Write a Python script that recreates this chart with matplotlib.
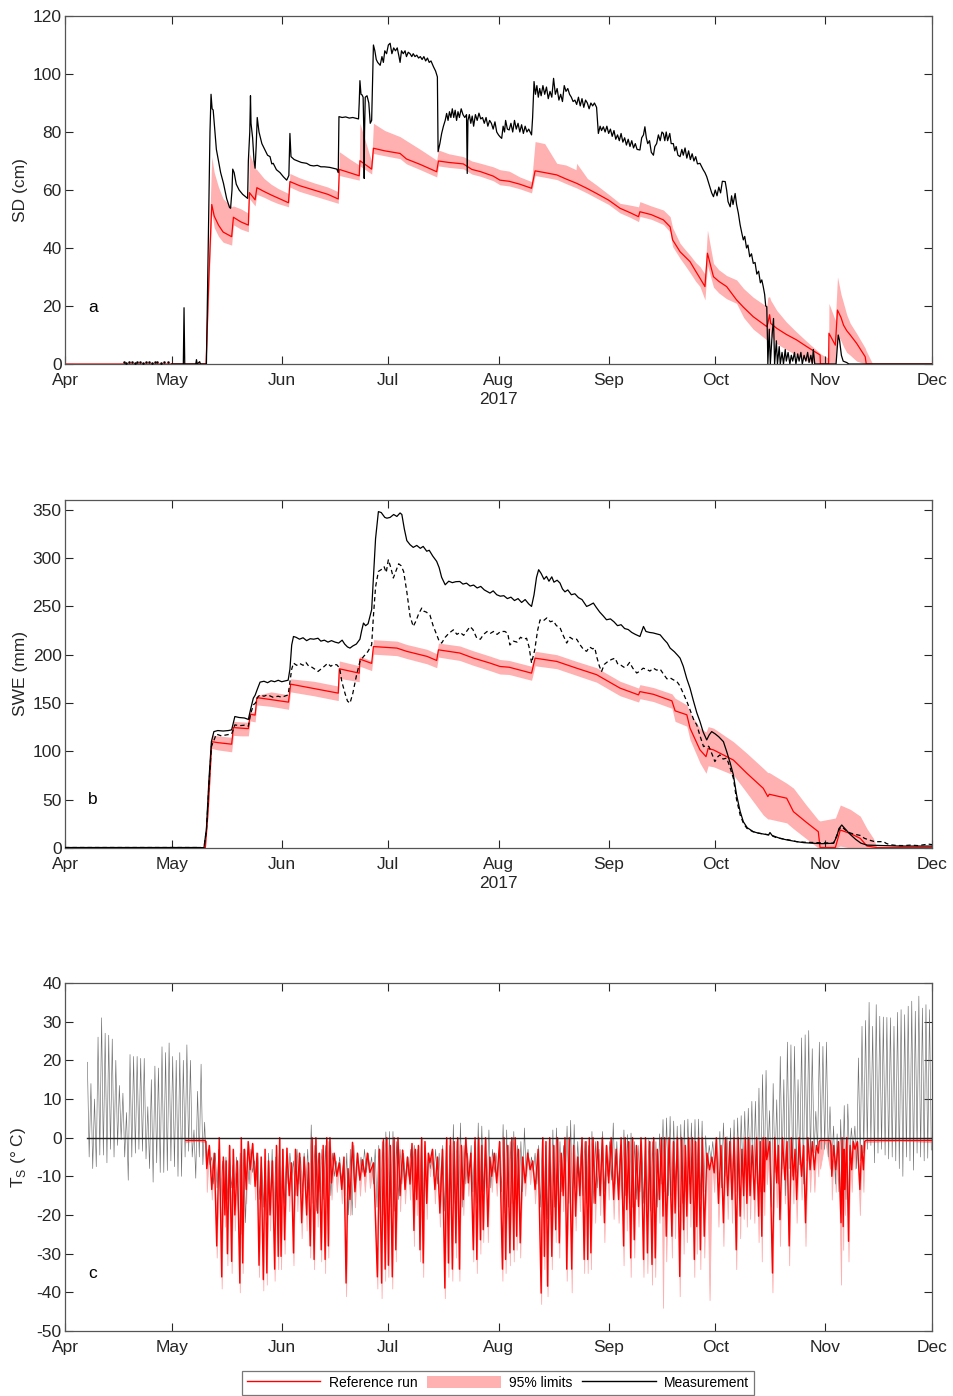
import numpy as np
import matplotlib
matplotlib.use('Agg')
import matplotlib.pyplot as plt
from matplotlib.lines import Line2D
from matplotlib.patches import Patch

plt.rcParams['font.family'] = ['Liberation Sans', 'DejaVu Sans']
plt.rcParams['mathtext.fontset'] = 'custom'
plt.rcParams['mathtext.rm'] = 'Liberation Sans'
plt.rcParams['axes.unicode_minus'] = False

# ---------------- axis data (day 0 = 1 Apr 2017) ----------------
month_days = [0, 30, 61, 91, 122, 153, 183, 214, 244]
month_labels = ['Apr', 'May', 'Jun', 'Jul', 'Aug', 'Sep', 'Oct', 'Nov', 'Dec']
year_label = '2017'
legend_labels = ['Reference run', '95% limits', 'Measurement']

# ---------------- panel a : snow depth (cm) ----------------
sd_snowdots_days = [16.5, 17.3, 18.0, 18.8, 19.6, 20.4, 21.2, 22.0, 22.8, 23.6, 24.4, 25.2, 26.0, 27.0, 28.0, 29.0]
sd_snowdots_vals = [0.6, 0.5, 0.6, 0.6, 0.5, 0.6, 0.6, 0.5, 0.6, 0.6, 0.5, 0.6, 0.6, 0.5, 0.6, 0.6]

sd_meas_pts = [
    (30, 0), (33.3, 0), (33.5, 19.4), (33.7, 0), (36.8, 0), (37.0, 1.5), (37.2, 0), (37.9, 0.8), (38.1, 0), (39.8, 0),
    (40.3, 40), (40.8, 80), (41.1, 93), (41.4, 88), (41.7, 87.6), (42.2, 80), (42.6, 74), (43.2, 70), (43.8, 66),
    (44.6, 62.3), (45.5, 57), (46.3, 54), (46.6, 53.7), (47.0, 60), (47.2, 67.2), (47.6, 66), (48.2, 62), (49.0, 60),
    (50.0, 58.5), (51.4, 57.1), (51.6, 70), (52.0, 80), (52.2, 92.5), (52.35, 83), (52.8, 78), (53.2, 70), (53.5, 67.5),
    (53.8, 75), (54.1, 85), (54.6, 80), (55.4, 76), (56.2, 74), (57.0, 72), (57.7, 71.5), (58.2, 69), (58.6, 69.2),
    (59.5, 67), (60.5, 66), (61.5, 64.5), (62.4, 63.4), (63.0, 65), (63.3, 79.5), (63.6, 71.5), (64.5, 70.5), (65.5, 70),
    (66.5, 69.5), (68.0, 69.2), (69.0, 68.5), (70.0, 68.3), (71.0, 68.5), (72.0, 68), (73.0, 68), (74.5, 67.8),
    (75.5, 67.5), (76.5, 67.2), (76.9, 66), (77.1, 85.3), (78, 85), (79, 85.2), (80, 84.8), (81, 85), (82.6, 84.5),
    (82.8, 90), (83.0, 97.7), (83.3, 93), (83.6, 92.8), (83.9, 92), (84.1, 80), (84.2, 64), (84.3, 80), (84.5, 92),
    (85.0, 92.5), (85.5, 90), (85.9, 83), (86.3, 84), (86.6, 100), (86.8, 110), (87.2, 108), (87.6, 105), (88.0, 104),
    (88.7, 103), (89.2, 106), (89.6, 104), (90.0, 108), (90.5, 107), (91.0, 110), (91.5, 110.6), (92, 107), (92.5, 109),
    (93, 108), (93.5, 109), (94.0, 106), (94.3, 104), (94.7, 108), (95.2, 107), (95.7, 108), (96.1, 106), (96.6, 107.5),
    (97.1, 107), (97.6, 106), (98, 107), (98.5, 106), (99, 106.5), (99.5, 105.5), (100, 106), (100.5, 105), (101, 106),
    (101.5, 104.5), (102, 105.5), (102.5, 104), (103, 104.5), (103.7, 102.5), (104.3, 101), (104.8, 99), (105.0, 73.2),
    (105.5, 76), (106.0, 79.5), (106.5, 82), (107.0, 84), (107.4, 86.4), (107.8, 84), (108.2, 87), (108.6, 85), (109, 88),
    (109.4, 85), (109.8, 87.5), (110.2, 84), (110.6, 87), (111, 85), (111.5, 88), (112, 86), (112.5, 85), (113.0, 86),
    (113.2, 65.7), (113.4, 84), (113.8, 86), (114.2, 83), (114.6, 85.5), (115, 82), (115.5, 86), (116, 84), (116.5, 86.5),
    (117, 84.5), (117.5, 85), (118, 83), (118.5, 85), (119, 82), (119.5, 84), (120, 83), (120.5, 81), (121, 83.5),
    (121.5, 80), (122, 79), (122.4, 78.4), (122.9, 77.8), (123.3, 82), (123.7, 80), (124, 84), (124.5, 81), (125, 80.7),
    (125.5, 83), (126, 80), (126.5, 84), (127, 81), (127.5, 83), (128, 80), (128.5, 82.5), (129, 79.5), (129.5, 82),
    (130, 80), (130.5, 81), (131.3, 79), (131.6, 85), (132.0, 97.4), (132.4, 93), (132.8, 96), (133.2, 92), (133.6, 95),
    (134, 92.5), (134.5, 96), (135, 93), (135.5, 95.5), (136, 91.5), (136.5, 94), (137, 92), (137.5, 98.5), (138, 93),
    (138.5, 95), (139, 91), (139.5, 93), (140, 90.5), (140.5, 96), (141, 94), (141.5, 95), (142, 93), (142.5, 92),
    (143, 90.5), (143.5, 91), (144, 89.5), (144.5, 92), (145, 89), (145.5, 91.5), (146, 88.5), (146.5, 91), (147, 90),
    (147.5, 88), (148, 90), (148.5, 89), (149, 90), (149.6, 88.5), (150.1, 79.5), (150.6, 82), (151, 80.5), (151.5, 81.8),
    (152, 80), (152.5, 82), (153, 79.5), (153.5, 81), (154, 78.5), (154.5, 80.5), (155, 77.5), (155.5, 79), (156, 77),
    (156.5, 79.5), (157, 76.5), (157.5, 78), (158, 75.5), (158.5, 77.5), (159, 75), (159.5, 77), (160, 74.5), (160.5, 76),
    (161, 74), (161.8, 73.8), (162.3, 78), (162.8, 79), (163.2, 81.8), (163.6, 78), (164, 76), (164.5, 77), (165, 73),
    (165.6, 72), (166, 75), (166.5, 76), (167, 79), (167.5, 77), (168, 80), (168.4, 79.5), (168.8, 77), (169.2, 80),
    (169.6, 77), (170.2, 79.5), (170.6, 76), (171.2, 76), (171.6, 73.5), (172, 75), (172.5, 72), (173.1, 71.5),
    (173.6, 74), (174, 72), (174.5, 74.5), (175, 71), (175.5, 73.5), (176, 70.5), (176.5, 72.5), (177, 70), (177.5, 71.5),
    (178, 69), (178.7, 69.2), (179.2, 68), (179.6, 67), (180.1, 66), (180.6, 64.6), (181, 63), (181.5, 61), (182, 59),
    (182.5, 57.7), (183, 60), (183.5, 58), (184, 61), (184.5, 59), (185, 63), (185.8, 62.9), (186.2, 60), (186.6, 56),
    (187.2, 54.2), (187.6, 58), (188.0, 55), (188.6, 58.8), (189.0, 55), (189.5, 52), (190, 48), (190.5, 45),
    (190.9, 42.8), (191.3, 44), (191.8, 40), (192.2, 41), (192.7, 37), (193.2, 38), (193.7, 34.7), (194.2, 35),
    (194.7, 31), (195.2, 32), (195.7, 28), (196.1, 29), (196.5, 26.7), (196.9, 24), (197.2, 20), (197.5, 19.8),
    (197.7, 8), (197.8, 0), (198.2, 12), (198.5, 0), (199.0, 10), (199.4, 15.7), (199.7, 0), (200.2, 8), (200.5, 0),
    (201, 6), (201.3, 0), (201.8, 4), (202.2, 0), (202.7, 5), (203, 1), (203.5, 4), (204, 0), (204.4, 3), (204.8, 1),
    (205.3, 4), (205.7, 0), (206.2, 3.5), (206.6, 1), (207.1, 4), (207.5, 0), (208, 3), (208.5, 1), (209, 4),
    (209.4, 0.5), (209.9, 3), (210.3, 0), (210.6, 5), (211, 0), (217.0, 0), (217.3, 5), (217.6, 10), (218, 8),
    (218.5, 3), (219, 1), (220, 0.5), (220.6, 0), (244, 0),
]

# (day, reference run, lower 95 % limit, upper 95 % limit)
sd_ref_pts = [
    (0, 0, 0, 0), (39.7, 0, 0, 0), (40.5, 30, 25, 40), (41.3, 55, 52, 71.5), (42.0, 51, 47, 66), (43.2, 47.9, 44, 61),
    (44.5, 45.5, 42, 57), (46.9, 43.9, 41, 54.2), (47.4, 50.6, 48, 54.5), (49.5, 49, 46.5, 53.5), (51.6, 47.9, 45.6, 52),
    (51.9, 59.1, 57, 72.6), (53.5, 56.6, 54.5, 67.5), (54.0, 60.8, 58.5, 67), (56, 59.5, 57.5, 64), (58, 58.3, 56.3, 62),
    (60, 57.2, 55.3, 60.5), (62.9, 55.6, 54.2, 58.8), (63.3, 62.9, 61, 65.7), (66, 61.5, 59.5, 64.2), (70, 60, 58, 62.5),
    (74, 58.5, 56.5, 61), (76.9, 56.9, 55.4, 59.4), (77.2, 67.1, 65, 73.2), (80, 66, 64.2, 70.8), (82.8, 64.9, 63.4, 68.6),
    (83.0, 70.1, 68.3, 83), (86.3, 67.2, 65.5, 69.8), (86.8, 74.4, 72.6, 83), (90, 73.5, 71.8, 80.5),
    (94.3, 72.6, 70.8, 78.4), (96.1, 70.7, 69, 77), (100, 68.8, 67, 74), (104.6, 66.3, 64.5, 70.3),
    (105.1, 70, 68.3, 73.8), (108, 69.5, 67.8, 72.5), (112.1, 69, 67.3, 71.5), (114.5, 67.1, 65.5, 70),
    (117, 66.3, 64.7, 69.2), (120.5, 64.8, 63.2, 68), (122.4, 63.4, 61.8, 67), (125, 63, 61.4, 66.5), (128, 62, 60.4, 64.5),
    (131.3, 60.6, 59, 62.9), (132.3, 66.6, 65, 76.7), (135, 66, 64.4, 76), (138.4, 65.2, 63.6, 69.2),
    (141, 63.8, 62.2, 68.6), (143.8, 62.4, 60.8, 67), (144, 62.3, 60.7, 69.2), (147, 60.5, 58.9, 64),
    (149.6, 58.8, 57.2, 61.7), (153, 56.5, 55, 58.5), (156.2, 53.7, 52.1, 55.4), (159, 52.2, 50.6, 54.8),
    (161.4, 50.8, 49.1, 54.2), (161.8, 52.5, 50.9, 56), (165, 51.5, 49.9, 54.5), (168.4, 49.7, 48.1, 53.1),
    (170.3, 47.3, 45.5, 50.8), (171.0, 42.8, 40.5, 47), (173.1, 38.7, 36.4, 41.6), (174.5, 37, 34, 39.5),
    (175.9, 35.3, 31.5, 37.5), (177.5, 32, 28.5, 35), (178.7, 29.6, 26.7, 33.6), (180.1, 26.7, 22.1, 31),
    (180.8, 38.2, 34, 46.2), (182.5, 30.1, 26.5, 34.7), (184, 28.5, 24.5, 32.5), (186.2, 26.7, 22.5, 30.5),
    (189, 22.1, 20.9, 29), (191, 19.5, 16, 26), (193.7, 16.3, 12, 23), (197.5, 12.9, 8.3, 19.8), (197.8, 14, 9, 23),
    (198.3, 17, 12, 23.2), (198.6, 14, 10, 22), (200.3, 12.3, 7, 18.5), (203, 10.2, 5, 14.5), (205.9, 8.3, 3, 11),
    (209, 5.8, 1, 7.5), (212.5, 3.1, 0, 3.7), (212.6, 0, 0, 3.5), (214.9, 0, 0, 2), (215.0, 10.6, 0, 20.9),
    (216.8, 6.5, 0, 15), (217.4, 18.6, 10, 30.1), (218.4, 16, 8, 24), (219.1, 13.4, 6, 21), (220, 11.5, 4, 17),
    (221, 10, 3, 14), (222.8, 7.1, 1, 10.5), (225.2, 2.5, 0, 5.5), (225.5, 0, 0, 4.5), (227.3, 0, 0, 0), (244, 0, 0, 0),
]

# ---------------- panel b : SWE (mm) ----------------
swe_meas_pts = [
    (0, 0.5), (38, 0.5), (39.1, 0), (39.8, 20), (40.5, 70), (41.2, 110), (41.9, 120.4), (43, 121.5), (44.5, 121),
    (46, 121.5), (46.9, 122.2), (47.4, 130), (47.8, 136), (49, 135), (50.5, 134.5), (51.6, 133), (52.2, 143), (53, 155),
    (53.5, 158), (54.2, 165), (54.9, 171.6), (56, 172.5), (57, 171), (58, 173), (59, 172), (60, 173.5), (61, 172),
    (62.8, 173.6), (63.3, 185), (63.8, 210), (64.3, 218.8), (65, 218), (66, 216), (67, 217.5), (68, 214.5), (69, 216.5),
    (70, 216), (71.2, 217), (72, 214), (73, 215), (74, 213), (75, 214.5), (76, 213), (77, 212), (78, 215), (78.7, 211),
    (79.5, 208), (80.2, 206.8), (81, 209), (82, 211), (83, 216), (83.5, 225), (84, 232.7), (84.6, 230), (85.3, 232),
    (86.3, 246.5), (86.8, 280), (87.4, 320), (88.2, 348), (89, 347), (90, 342), (90.6, 341.2), (91.5, 342), (92.5, 345),
    (93.4, 343), (94.3, 346.6), (94.8, 345), (95.5, 330), (96.2, 318), (97.1, 313.8), (98, 311), (99, 313), (100, 310),
    (100.8, 312), (101.8, 307), (102.5, 308), (103.5, 302), (104.6, 296.5), (105.3, 290), (106, 280), (107, 272.3),
    (108, 276), (109, 274.5), (110, 275.5), (111.1, 275.7), (112, 273), (113, 274), (114, 271), (115, 272), (116, 269),
    (117, 270.6), (118, 267), (119, 265), (119.6, 263.7), (120.5, 266), (121.5, 262), (122.5, 260.5), (123.5, 261),
    (124.5, 258), (125.5, 259.5), (126.5, 256), (127.5, 258), (128.5, 254), (129.5, 257), (130.5, 252.5),
    (131.3, 249.9), (132, 262), (132.7, 280), (133.3, 287.9), (134, 284), (134.8, 278), (135.5, 281), (136.2, 276),
    (137, 280.5), (137.6, 275), (138.5, 277), (139.3, 274.1), (140, 268), (140.7, 265), (141.5, 267), (142.5, 262),
    (143.5, 263), (144.5, 259), (145.5, 257), (146.8, 249.9), (147.5, 251), (148.7, 253.4), (149.5, 249), (150.5, 244),
    (151.5, 240), (152.4, 236.1), (153.5, 237), (154.5, 234), (155.5, 230), (156.5, 231), (157.5, 227), (158.5, 226),
    (159.5, 223), (160.5, 221), (161.8, 218.8), (162.5, 226), (162.8, 229.2), (163.5, 224), (164.5, 223),
    (165.5, 222.5), (167.5, 220.5), (168.5, 216), (169.5, 212), (170.3, 206.8), (171.5, 203), (172.5, 199),
    (173.1, 196.4), (174, 188), (175, 175), (175.9, 165.4), (176.8, 153), (177.8, 140), (178.7, 130.8), (179.6, 120),
    (180.6, 111.8), (181.3, 117), (182, 120.4), (183, 118), (184, 115), (185.3, 110), (186.2, 100), (187.2, 88),
    (188.1, 75.6), (189, 55), (190, 38), (190.9, 27.2), (192, 21), (193.7, 16.9), (195, 15.5), (196.5, 14.5),
    (198, 13.5), (198.4, 16), (199, 13), (201.2, 10), (203, 8.5), (206, 6.5), (208, 5.5), (210.6, 4.9), (213, 4.5),
    (216.3, 4.9), (217.2, 12), (217.8, 20), (218.6, 23.8), (219.5, 20), (221, 14), (222.5, 9), (224, 5), (225.7, 3),
    (230, 2.5), (235, 2), (240, 2), (244, 2),
]

swe_meas2_pts = [
    (0, 0.5), (38, 0.5), (39.1, 0), (39.8, 18), (40.5, 65), (41.2, 105), (42.6, 117.8), (44, 116), (45.5, 117),
    (46.9, 118), (47.4, 123), (47.8, 127.4), (49, 126.5), (50.5, 127), (51.6, 126), (52.2, 138), (53, 148),
    (53.6, 150), (54.2, 156), (54.9, 158.4), (56, 157), (57, 158.5), (58.5, 156), (60, 157), (61, 156), (62.8, 158.4),
    (63.3, 172), (63.8, 185), (64.3, 191.3), (65.2, 189), (66, 191), (67, 189), (67.8, 192), (68.6, 188), (69.5, 187),
    (70.3, 185), (71.2, 182.6), (72, 185), (73, 188), (73.9, 191), (74.8, 188), (75.6, 190), (76.5, 189.5), (77.3, 186),
    (77.9, 172.2), (78.8, 160), (79.5, 152), (80.2, 149.8), (81, 160), (82, 178), (83, 193), (84, 198), (85.2, 203),
    (86.3, 210.2), (86.8, 240), (87.4, 270), (88.2, 286.1), (89, 288), (89.8, 291), (90.4, 285), (91, 298.2),
    (91.7, 290), (92.4, 279.3), (93.2, 287), (93.9, 294), (94.6, 292), (95.3, 286), (96.2, 265), (97.1, 240),
    (98, 229.2), (98.8, 235), (99.5, 242), (100.4, 248.2), (101, 245), (101.7, 244), (102.7, 241), (103.6, 230),
    (104.6, 220.6), (105.3, 214), (106, 212), (107, 218), (108, 222), (109.3, 225.7), (110.3, 221), (111.2, 223),
    (112.2, 220), (113, 224), (114, 229), (114.8, 226), (115.9, 217), (116.9, 216), (117.8, 221), (118.8, 224),
    (119.7, 222), (120.6, 224), (121.6, 221), (122.6, 224), (123.8, 224), (124.6, 222), (125.2, 210), (126.2, 214),
    (127.2, 213), (128.2, 218), (129.2, 216), (129.9, 217), (130.6, 208), (131.3, 191.3), (132.2, 205), (133, 225),
    (133.7, 236), (134.6, 235), (135.6, 238), (136.6, 234), (137.4, 235), (138.3, 230), (139.3, 228), (140.2, 220),
    (141.2, 212), (142.1, 218), (143.1, 215.5), (144, 216), (145, 210), (146, 205), (146.8, 203.5), (147.6, 208),
    (148.5, 206), (149.1, 207), (149.7, 197), (150.4, 188), (151, 182.6), (151.8, 190), (152.8, 193), (153.8, 195),
    (154.8, 196.4), (155.6, 190), (156.5, 189), (157.3, 187), (158.1, 188), (158.9, 192), (159.8, 186), (160.9, 181),
    (161.8, 183), (162.7, 186), (163.6, 185), (164.6, 183), (165.6, 186), (166.5, 184), (167.5, 185), (168.4, 180),
    (169.4, 175), (170.3, 176), (171.2, 174), (172.2, 172.2), (173, 168), (174, 160), (175, 151.6), (176, 142),
    (177, 132), (177.8, 127.4), (178.8, 115), (179.7, 104.9), (180.4, 106), (181.2, 105), (182, 98), (182.9, 89.4),
    (183.6, 94), (184.3, 96.3), (185.2, 92), (186.2, 93), (187, 85), (188.1, 72.2), (189, 50), (190, 34.2), (191, 25),
    (191.9, 20.4), (193.5, 17), (195, 15.5), (196.5, 14.5), (198.4, 13.5), (200, 11), (202, 9.5), (203.5, 8.5),
    (205.9, 6.6), (208, 6), (212, 5.5), (216.3, 5), (217.2, 13), (218, 20), (218.6, 22), (219.5, 19), (221, 15.5),
    (222.5, 14), (223.8, 13), (225, 10), (226.5, 8), (228, 6.5), (230.4, 6.6), (231, 5), (232, 3.5), (234, 2.6),
    (236, 2.5), (238, 3), (240, 2.5), (242, 3.5), (243, 4), (244, 3.5),
]

# (day, reference run, lower 95 % limit, upper 95 % limit)
swe_ref_pts = [
    (0, 0, 0, 0), (39.5, 0, 0, 0), (40.3, 40, 35, 45), (41.3, 110, 103, 117), (43, 109, 101.5, 116),
    (46.9, 107.4, 99.5, 114.5), (47.4, 124.6, 116.5, 131), (49.5, 124, 116, 130.5), (51.6, 123.5, 116, 130),
    (52.1, 138.4, 131.5, 141), (53.5, 137.5, 130.5, 140.5), (54.0, 155.6, 148, 158), (58, 153.5, 146.5, 161.5),
    (62.9, 150.9, 143.5, 158.5), (63.5, 169.5, 161.5, 175), (70, 165, 157.5, 172.5), (76.9, 160.2, 152.5, 167.5),
    (77.2, 185.4, 175.5, 193.5), (82.8, 180.9, 172, 188.5), (83.0, 195.4, 188, 198.5), (86.3, 191, 183.5, 193.5),
    (86.8, 208.4, 200.5, 215.5), (93.4, 206.8, 199, 214), (96.2, 203.4, 196, 210.5), (101.9, 198.2, 190.5, 205.5),
    (104.6, 194, 186.5, 201), (105.1, 205, 197.5, 212), (111.1, 201.7, 194, 209), (114.9, 196.5, 189, 204),
    (119.6, 191.3, 183.5, 198.5), (122.4, 187.8, 180, 195), (125, 187, 179.5, 194), (131.3, 180.9, 173.5, 188),
    (132.3, 196.4, 188.5, 203.5), (138.4, 193, 185.5, 200), (144, 186, 178.5, 193), (149.6, 179.3, 171.5, 186.5),
    (156.2, 165.4, 157.5, 172.5), (161.4, 158.4, 151, 165.5), (161.8, 161.8, 154.5, 169), (165.6, 159, 151.5, 166),
    (170.8, 152.2, 144.5, 159.5), (171.7, 141.9, 131, 155), (175, 137.8, 126, 148), (175.9, 124, 112, 140),
    (178.7, 101.5, 88, 124), (180.4, 94.5, 77.3, 120), (181.0, 103, 85, 125.6), (182.5, 101.5, 84, 124),
    (188.1, 91, 75.6, 110), (191.9, 77.3, 57, 98), (196.5, 61.8, 34.2, 82.5), (197.8, 53.2, 30, 78),
    (198.2, 55.6, 30, 78), (203.1, 51.5, 26, 67), (205, 37.6, 20, 62), (208.5, 27, 10, 45), (212, 16.9, 0, 29),
    (212.5, 0.5, 0, 28), (216.8, 0.5, 0, 31), (218.2, 18.6, 2, 44.5), (221, 15, 0, 40), (223.8, 10, 0, 33),
    (225.7, 2, 0, 20), (227.5, 1, 0, 10), (228.5, 0.5, 0, 0.5), (244, 0.5, 0, 0.5),
]

# ---------------- panel c : surface temperature (deg C) ----------------
ts_zero_start = 6.3
ts_meas_first_day = 6
ts_meas_max = [
    19.5, 14, 10, 26, 31, 27, 26.5, 25.5, 20, 13.5, 11.5, 6.5, 21.5, 21, 21, 20.5, 20.5, 8, 15, 18.5,
    18, 23.5, 22, 24.5, 21, 20, 22, 20, 24, 20, 2, 12, 19, 4,
    -3, -5, -4, -3, -6, -5, -4, -7, -5, -4,
    -3, -5, -3, -6, -4, -5, -6, -4, -3, -5,
    -4, -3, -5, -4, -6, -3, -5, -4, -3, 3.3,
    -2, -4, -3, -2, -1, -4, -6, -5, -7, -4,
    -3, -2, -4, -5, -3, -4, -5, -3, -2, -1,
    1.5, 1.6, 1.6, -1, -3, -4, -5, -3, -2, -3,
    -1, -2, -4, -5, -3, -4, -2, -1, -2, 3.4,
    -1, 3.8, -2, -4, -2, -1, 3.8, 3, -1, 2,
    -3, -4, -1, 3.4, 2, -1, 1.6, -2, -1, 2.5,
    -3, -5, -4, -2, -1, -2, -1, 2, 2.5, -1,
    -2, 3, 4.5, 3.4, -1, -2, -1, -2, 1.6, -1,
    -3, 1.6, -2, -1, 3.8, -1, -2, 2, 0.8, 1.2,
    -1, -2, -1, -2, -0.5, -1, -1,
    1, 4.7, 5.1, 5.5, 4.3, 3, 3.4, 4.5, 4.8, 3.8, 4.7, 4.8, 4.3, 0.5, -2, -1, -1, 1.6, 3.8, 0.3,
    2.5, 4.6, 5.1, 5.7, 6.8, 7.6, 9.4, 9.4, 12.8, 16.3,
    17.4, 7, 14, 9.8, 21, 15, 24.7, 24, 23.6, 15, 25.8, 26.6, 27.7, 23, 6.8, 24.7, 23.6, 24.7, 8, 3,
    1, 4.7, 8.3, 8.7, 2.5, 3, 20.6, 28.8, 30.3, 35, 28.8, 34.4, 31.4, 31.2, 31.1, 31, 28.8, 32.4, 33.1, 31.8,
    34, 35.3, 32.7, 36.6, 33.5, 34.4, 33.1,
]
ts_meas_min = [
    -5, -8, -7.5, -4.5, -4.5, -6.5, -3, -5, -2, -0.5, -5, -11, -5, -4, -3, -3.5, -5.5, -8, -11.5, -6.5,
    -9, -9, -8.5, -6, -7.5, -10, -10, -5, -3.5, -5, -10.5, -5, -7, -8,
    -7, -12, -13, -18, -15, -16, -13, -13, -20, -25,
    -22, -12, -9, -11, -16, -18, -20, -17, -21, -20,
    -18, -17, -12, -10, -15, -12, -14, -13, -15, -17,
    -19, -14, -16, -18, -15, -10, -9, -11, -15, -20,
    -20, -13, -10, -9, -9, -8, -12, -18, -22, -20,
    -16, -18, -19, -16, -12, -11, -10, -11, -14, -16,
    -18, -17, -8, -10, -12, -14, -19, -20, -18, -17,
    -16, -18, -12, -10, -14, -17, -16, -14, -13, -13,
    -9, -10, -14, -19.5, -18, -17, -16, -15, -14, -10,
    -8, -9, -12, -18, -20, -21, -20, -18, -15, -14,
    -12, -17, -18, -13, -11, -15, -17, -18, -17, -13,
    -12, -14, -10, -11, -12, -13, -16, -15, -17, -18,
    -16, -14, -17, -18, -19, -19.5, -18, -12, -14, -15,
    -15, -13, -18, -17, -14, -12, -16, -15, -16, -14,
    -8, -6, -7, -11, -13, -10, -11, -16, -14, -12,
    -10, -11, -10, -11, -12, -14, -10,
    -5, -18, -9, -12, -8, -15, -8, -10, -9, -7,
    -12, -6, -6, -4, -3, -3, -3, -5, -7, -12,
    -14, -15, -16, -6, -3, -8, -6, -4, -3, -2,
    -6.5, -4, -3, -4.5, -5.5, -5, -6, -8, -10, -5,
    -6, -8.4, -4, -5, -6, -5.3, -3.2,
]

ts_ref_days = [
    34.0, 39.4, 39.9, 41.3, 42.7, 44.1, 45.0, 45.7, 46.9, 47.8, 49.2, 50.0, 51.0, 52.1, 53.5, 54.6, 55.8, 56.8, 57.7,
    59.0, 60.0, 60.8, 61.8, 63.1, 64.3, 65.4, 66.6, 68.0, 69.0, 70.1, 71.1, 72.1, 73.2, 74.1, 75.0, 76.5, 77.9, 79.1,
    80.2, 81.6, 83.0, 84.4, 85.8, 87.9, 89.1, 90.1, 91.0, 92.1, 93.1, 94.3, 95.7, 97.1, 98.2, 99.0, 99.9, 100.8, 101.8,
    102.7, 104.1, 105.5, 106.9, 107.9, 109.0, 110.0, 111.0, 112.1, 113.5, 114.9, 115.9, 116.9, 117.7, 119.0, 120.1,
    121.5, 123.1, 124.0, 125.2, 126.3, 127.1, 128.1, 129.5, 130.9, 132.3, 134.0, 134.9, 135.8, 137.0, 138.1, 139.1,
    140.2, 141.2, 142.6, 143.7, 144.9, 146.1, 147.1, 148.0, 149.2, 150.6, 151.8, 153.0, 154.4, 155.8, 157.2, 158.1,
    159.2, 160.2, 161.4, 162.8, 163.9, 165.2, 166.1, 167.3, 168.3, 169.2, 170.8, 171.7, 173.0, 174.1, 175.0, 176.0,
    177.1, 177.8, 178.8, 179.9, 181.4, 182.7, 183.9, 185.3, 186.5, 187.7, 188.9, 190.0, 191.0, 191.9, 192.8, 194.0,
    195.2, 196.1, 196.8, 197.5, 199.1, 200.3, 201.2, 202.6, 203.8, 205.0, 205.9, 207.3, 208.4, 209.7, 210.9, 212.0,
    212.5, 215.3, 215.8, 216.9, 218.4, 219.0, 219.5, 220.5, 221.4, 222.3, 223.7, 224.7, 225.4, 244.0,
]
ts_ref_min = [
    -0.7, -0.7, -8, -13.4, -28, -36, -20, -30, -32, -20, -37.6, -32.4, -13.4, -8.3, -12.6, -33, -36.7, -35, -20,
    -34, -30.7, -30.7, -26.4, -15, -29.8, -15, -22, -20, -28, -31.5, -19.5, -29, -31.5, -28, -11.7, -10, -13.4, -37.6,
    -16, -14, -11, -10, -9, -36, -37.6, -34, -33, -36, -29, -15, -13.4, -12, -24, -16, -29, -32.4, -17,
    -6.5, -13.4, -19.5, -38.9, -32.4, -34, -27.2, -34, -16, -11.7, -29, -31.5, -26.4, -23.8, -23, -10,
    -11.7, -34, -31.5, -29.8, -29, -25.5, -27.2, -11.7, -8.3, -13.4, -40.2, -30.7, -38.4, -30.7, -23.8, -27.2,
    -15, -34, -34, -20.3, -15, -31.5, -31.5, -29.8, -17, -15, -22, -11.7, -16, -16, -28, -18.6,
    -31.1, -26.4, -17.8, -31.5, -29.8, -32.8, -31.1, -16, -20.3, -25.5, -25.5, -19.5, -35.9, -23.8, -20.3, -17,
    -31.5, -23, -29, -25.5, -8.3, -9.1, -17, -22, -15, -16, -29, -20.3, -15, -17, -15, -16,
    -20.3, -25.5, -14, -5.7, -35, -11.7, -21.2, -10.9, -28, -10.9, -16, -10, -22, -8.3, -8.3, -4,
    -0.7, -0.7, -10, -8.3, -22, -23, -13.4, -26.8, -8.3, -3, -13.4, -8.3, -0.7, -0.7,
]
ts_ref_max = [
    -0.7, -1,
    -2, -4, 0, -5, -6, -2, -3, -6, 0, -3,
    -1, -1.5, -4, -5, -3, -6, -6, -2, 0, -3,
    -2.7, -6.5, -3, -4, -5, -6.5, 0, 0, -4, -2,
    0, 0, -4, -6.5, -5, -8, -1.2, -4, -5.7, -4, -6.5,
    -3, -0.5, 0, -2, 0, 0, -3.2, -5, -1.5, -3,
    -2, 0, -1, -4, -3, -5, -3, 0, 0, -1, 0, -2, 0, -4, 0, 0, -2, 0, -5, -4, -1, 0, -2, 0, 0,
    -3, -5, -4, -6, -3, 0, -1, 0, -2, 0, -4, 0, 0, -2, -5, 0, -1, 0,
    0, -1, 0, -2, 0, -3, 0, 0, -1, 0, -2, 0, 0, -1, 0, -3, 0, 0, 0, -1, 0, 0, -2, 0, 0,
    -1, 0, 0, -4, -5, 0, -2, 0, -1, 0, 0, -3, 0, 0, -2, 0, -1, 0, 0,
    -1, 0, -2, 0, -1, 0, -3, 0, -2, 0, -1, -2, -1,
    -0.7, -2,
    -2, -1, 0, -3, 0, -2, -1, -1, -2, -1,
    -0.7, -0.7,
]
ts_ref_lo = [
    -1.2, -1.2,
    -14, -16, -31, -39, -23, -33, -35, -24, -40, -35,
    -17, -12, -16, -36, -39.5, -38, -24, -37, -34, -34,
    -30, -19, -33, -19, -26, -24, -31, -34, -23, -32,
    -35, -31, -16, -14, -17, -41, -20, -18, -15, -14,
    -13, -39, -41.5, -37, -36, -39, -32, -19, -17, -16,
    -28, -20, -32, -36, -21, -10, -17, -23, -41.5, -36,
    -37, -31, -37, -20, -15, -32, -35, -30, -27, -27,
    -14, -15, -37, -35, -33, -32, -29, -31, -15, -12,
    -17, -43, -34, -41, -34, -27, -31, -19, -37, -40,
    -24, -19, -35, -35, -34, -22, -20, -27, -16, -21,
    -22, -33, -24, -36, -31, -23, -36, -35, -38, -36,
    -22, -44, -32, -31, -26, -41, -30, -27, -23, -36,
    -30, -34, -31, -42, -14, -23, -28, -21, -22, -34,
    -26, -21, -23, -21, -22, -27, -32, -20, -12, -40,
    -18, -28, -17, -33, -17, -22, -16, -28, -14, -14,
    -10,
    -8, -8,
    -16, -14, -38, -29, -20, -32, -14, -8, -20, -14,
    -1.2, -1.2,
]

# ---------------- styling ----------------
RED = '#ff0000'
PINK = '#ffb0b0'
AXC = '#262626'
SPC = '#555555'
FS = 12.5

W, H = 954, 1396
fig = plt.figure(figsize=(W / 100, H / 100), dpi=100)


def ax_at(top_px):
    return fig.add_axes([65 / W, 1 - (top_px + 348) / H, 867 / W, 348 / H])


def style(ax, ylim, yticks):
    ax.set_xlim(0, 244)
    ax.set_ylim(*ylim)
    ax.set_xticks(month_days)
    ax.set_xticklabels(month_labels)
    ax.set_yticks(yticks)
    ax.tick_params(axis='both', direction='in', length=5.8, width=0.8, top=True, right=True,
                   labelsize=FS, colors=AXC)
    ax.tick_params(axis='x', pad=6.5)
    ax.tick_params(axis='y', pad=2.5)
    for s in ax.spines.values():
        s.set_color(SPC)
        s.set_linewidth(0.9)


def cols(pts):
    return [np.array(c, dtype=float) for c in zip(*pts)]


# ---- panel a
axa = ax_at(16)
d, r, lo, hi = cols(sd_ref_pts)
axa.fill_between(d, lo, hi, color=PINK, lw=0, zorder=1)
axa.plot(d, r, color=RED, lw=0.9, zorder=2)
md, mv = cols(sd_meas_pts)
axa.plot(md, mv, color='black', lw=0.9, zorder=3)
axa.plot(sd_snowdots_days, sd_snowdots_vals, ls='none', marker='.', ms=1.6, color='black', zorder=3)
style(axa, (0, 120), np.arange(0, 121, 20))
axa.set_ylabel('SD (cm)', fontsize=FS, color=AXC)
axa.yaxis.set_label_coords(-0.0427, 0.5)
axa.text(6.5, 19.5, 'a', fontsize=FS, ha='left', va='center', color='black')
axa.annotate(year_label, xy=(122, 0), xycoords=('data', 'axes fraction'), xytext=(0, -36),
             textcoords='offset pixels', ha='center', va='center', fontsize=FS, color=AXC)

# ---- panel b
axb = ax_at(500)
d, r, lo, hi = cols(swe_ref_pts)
axb.fill_between(d, lo, hi, color=PINK, lw=0, zorder=1)
axb.plot(d, r, color=RED, lw=0.9, zorder=2)
md, mv = cols(swe_meas2_pts)
axb.plot(md, mv, color='black', lw=0.9, ls=(0, (3.5, 2.5)), zorder=3)
md, mv = cols(swe_meas_pts)
axb.plot(md, mv, color='black', lw=0.9, zorder=3)
style(axb, (0, 360), np.arange(0, 351, 50))
axb.set_ylabel('SWE (mm)', fontsize=FS, color=AXC)
axb.yaxis.set_label_coords(-0.0427, 0.5)
axb.text(6.5, 50, 'b', fontsize=FS, ha='left', va='center', color='black')
axb.annotate(year_label, xy=(122, 0), xycoords=('data', 'axes fraction'), xytext=(0, -36),
             textcoords='offset pixels', ha='center', va='center', fontsize=FS, color=AXC)

# ---- panel c
axc = ax_at(983)
# reference run: minima at given days, maxima between consecutive minima
t_ref, v_ref, v_lo = [], [], []
for i in range(len(ts_ref_days)):
    t_ref.append(ts_ref_days[i]); v_ref.append(ts_ref_min[i]); v_lo.append(ts_ref_lo[i])
    if i + 1 < len(ts_ref_days):
        t_ref.append(0.5 * (ts_ref_days[i] + ts_ref_days[i + 1]))
        v_ref.append(ts_ref_max[i]); v_lo.append(ts_ref_max[i])
t_ref = np.array(t_ref); v_ref = np.array(v_ref); v_lo = np.array(v_lo)
axc.fill_between(t_ref, v_lo, v_ref, color=PINK, lw=0.6, edgecolor=PINK, zorder=1)

# measurement: daily maximum (afternoon) then minimum (night)
t_m, v_m = [], []
for i, (mx, mn) in enumerate(zip(ts_meas_max, ts_meas_min)):
    day = ts_meas_first_day + i
    t_m += [day + 0.3, day + 0.8]
    v_m += [mx, mn]
axc.plot(t_m, v_m, color='#6e6e6e', lw=0.45, zorder=2)
axc.plot(t_ref, v_ref, color=RED, lw=1.0, zorder=3)
axc.axhline(0, xmin=ts_zero_start / 244, xmax=1, color='#222222', lw=1.0, zorder=4)
style(axc, (-50, 40), np.arange(-50, 41, 10))
axc.set_ylabel(r'T$_\mathregular{S}$ (° C)', fontsize=FS, color=AXC)
axc.yaxis.set_label_coords(-0.0427, 0.5)
axc.text(6.5, -35, 'c', fontsize=FS, ha='left', va='center', color='black')

# ---- legend
handles = [Line2D([], [], color=RED, lw=1.0), Patch(facecolor=PINK, edgecolor='none'),
           Line2D([], [], color='black', lw=1.0)]
leg = fig.legend(handles, legend_labels, ncol=3, loc='upper center',
                 bbox_to_anchor=(498 / W, 1 - 1371 / H), fontsize=10, frameon=True, fancybox=False,
                 edgecolor=SPC, handlelength=5.3, handleheight=1.0, columnspacing=0.7,
                 handletextpad=0.6, borderpad=0.35, borderaxespad=0)
leg.get_frame().set_linewidth(0.9)

fig.savefig('out.png', dpi=100)
